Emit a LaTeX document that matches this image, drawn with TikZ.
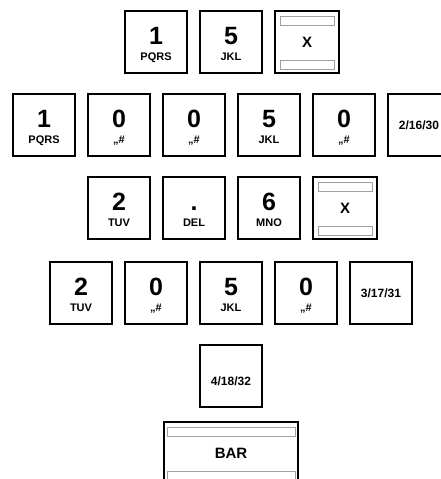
\documentclass[tikz,border=0pt]{standalone}
\usepackage{fontspec}
\setmainfont{Liberation Sans}
\tikzset{
  keybox/.style={draw=black, line width=1.8pt, fill=white, minimum width=62pt, minimum height=62pt, inner sep=0pt},
  digit/.style={font=\fontsize{25}{25}\selectfont\bfseries, anchor=base, inner sep=0pt},
  sublbl/.style={font=\fontsize{11}{11}\selectfont\bfseries, anchor=base, inner sep=0pt},
  numlbl/.style={font=\fontsize{12}{12}\selectfont\bfseries, inner sep=0pt},
  biglbl/.style={font=\fontsize{15}{15}\selectfont\bfseries, inner sep=0pt},
  barstrip/.style={draw=gray!75, line width=0.7pt, fill=white},
}
\newcommand\numkey[5]{%
  \node[keybox] (#1) at (#2+32,#3+32) {};
  \node[digit] (#1-d) at ([yshift=-2pt]#1.center) {#4};
  \node[sublbl] (#1-s) at ([yshift=-18pt]#1.center) {#5};
}
\newcommand\txtkey[4]{%
  \node[keybox] (#1) at (#2+32,#3+32) {};
  \node[numlbl] (#1-t) at ([yshift=#4]#1.center) {\strut};
}
\newcommand\labkey[5]{%
  \node[keybox] (#1) at (#2+32,#3+32) {};
  \node[numlbl] (#1-t) at ([yshift=#4]#1.center) {#5};
}
\newcommand\barkey[6]{% name, left, top, width, inset, text
  \node[keybox, minimum width=#4-2] (#1) at (#2+#4/2,#3+32) {};
  \draw[barstrip] ([xshift=#5pt,yshift=-6pt]#1.north west) rectangle ([xshift=-#5pt,yshift=-15pt]#1.north east);
  \draw[barstrip] ([xshift=#5pt,yshift=5pt]#1.south west) rectangle ([xshift=-#5pt,yshift=14pt]#1.south east);
  \node[biglbl] (#1-t) at (#1.center) {#6};
}
\begin{document}
\begin{tikzpicture}[x=1pt,y=-1pt]
  \useasboundingbox (0,0) rectangle (441,479);
  \clip (0,0) rectangle (441,479);
  % row 1
  \numkey{a1}{124}{10}{1}{PQRS}
  \numkey{a2}{199}{10}{5}{JKL}
  \barkey{a3}{274}{10}{66}{6}{X}
  % row 2
  \numkey{b1}{12}{93}{1}{PQRS}
  \numkey{b2}{87}{93}{0}{„\#}
  \numkey{b3}{162}{93}{0}{„\#}
  \numkey{b4}{237}{93}{5}{JKL}
  \numkey{b5}{312}{93}{0}{„\#}
  \labkey{b6}{387}{93}{0pt}{2/16/30}
  % row 3
  \numkey{c1}{87}{176}{2}{TUV}
  \numkey{c2}{162}{176}{.}{DEL}
  \numkey{c3}{237}{176}{6}{MNO}
  \barkey{c4}{312}{176}{66}{6}{X}
  % row 4
  \numkey{d1}{49}{261}{2}{TUV}
  \numkey{d2}{124}{261}{0}{„\#}
  \numkey{d3}{199}{261}{5}{JKL}
  \numkey{d4}{274}{261}{0}{„\#}
  \labkey{d5}{349}{261}{0pt}{3/17/31}
  % row 5
  \labkey{e1}{199}{344}{-5pt}{4/18/32}
  % row 6
  \barkey{f1}{163}{421}{136}{4}{BAR}
\end{tikzpicture}
\end{document}
